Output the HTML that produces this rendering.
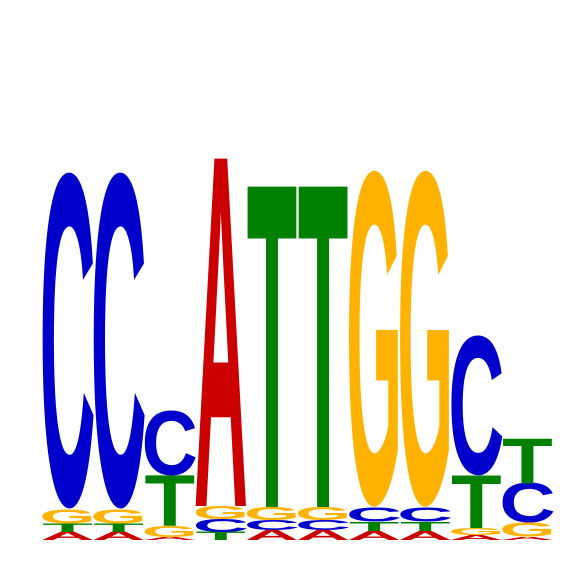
<!DOCTYPE html>
<html><head><meta charset="utf-8"><style>
html,body{margin:0;padding:0;background:#fff;width:566px;height:566px;overflow:hidden}
svg text{font-family:"Liberation Sans",sans-serif;font-weight:bold}
</style></head><body>
<svg id="logo" width="566" height="566" viewBox="0 0 566 566" xmlns="http://www.w3.org/2000/svg"></svg>
<script>
const positions = [1,2,3,4,5,6,7,8,9,10];
const heightA = [0.045,0.045,0.017,1.93,0.055,0.055,0.05,0.05,0.028,0.017];
const heightC = [1.85,1.85,0.36,0.072,0.056,0.056,0.078,0.078,0.77,0.22];
const heightG = [0.078,0.078,0.061,0.073,0.072,0.072,1.85,1.85,0.039,0.078];
const heightT = [0.046,0.046,0.28,0.044,1.78,1.78,0.051,0.051,0.29,0.25];
const colors = {A:'#CC0000',C:'#0000CC',G:'#FFB300',T:'#008000'};
const widthFactor = {A:1.06,C:1.1,G:1.1,T:0.99};
const svg = document.getElementById('logo');
const NS = 'http://www.w3.org/2000/svg';
const x0 = 42, colW = 51.1, baseY = 540, pxPerBit = 180;
function xPos(i){ return x0 + i*colW; }
function yLen(v){ return v*pxPerBit; }
positions.forEach((p,i)=>{
  const g = document.createElementNS(NS,'g');
  
  
  svg.appendChild(g);
  const stack = [['A',heightA[i]],['C',heightC[i]],['G',heightG[i]],['T',heightT[i]]].sort((a,b)=>a[1]-b[1]);
  let y = baseY;
  stack.forEach(([L,v])=>{
    const h = yLen(v);
    if (h < 0.5) return;
    const round = (L==='C'||L==='G');
    const sy = h / (round ? 70.2 : 68.8);
    const off = round ? 1.2*sy : 0;
    const f = widthFactor[L];
    const wl = colW*f;
    const xo = -colW*(f-1)/2;
    const t = document.createElementNS(NS,'text');
    
    
    t.setAttribute('x', 0);
    t.setAttribute('y', 0);
    t.setAttribute('font-size', 100);
    t.setAttribute('textLength', wl);
    t.setAttribute('lengthAdjust', 'spacingAndGlyphs');
    t.setAttribute('fill', colors[L]);
    t.setAttribute('transform', `translate(${xPos(i) + xo},${y - off}) scale(1,${sy})`);
    t.textContent = L;
    g.appendChild(t);
    y -= h;
  });
});
</script>
</body></html>
